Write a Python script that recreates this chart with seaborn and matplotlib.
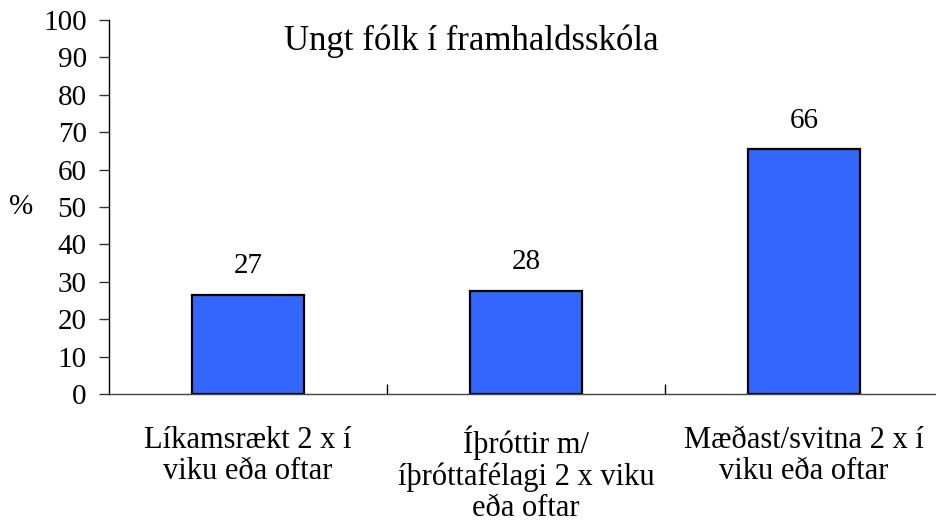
import numpy as np
import pandas as pd
import seaborn as sns
import matplotlib.pyplot as plt

# data
categories = ["Líkamsrækt 2 x í\nviku eða oftar",
              "Íþróttir m/\níþróttafélagi 2 x viku\neða oftar",
              "Mæðast/svitna 2 x í\nviku eða oftar"]
values = [26.6, 27.6, 65.5]
value_labels = ["27", "28", "66"]
y_ticks = list(range(0, 101, 10))

sns.set_style("white")
plt.rcParams["font.family"] = ["Liberation Serif", "DejaVu Serif"]
plt.rcParams["text.color"] = "black"
plt.rcParams["axes.labelcolor"] = "black"
plt.rcParams["xtick.color"] = "black"
plt.rcParams["ytick.color"] = "black"

df = pd.DataFrame({"cat": categories, "pct": values})

fig = plt.figure(figsize=(9.37, 5.27), dpi=100)
ax = fig.add_axes([109 / 937, 1 - 394 / 527, 834 / 937, 374 / 527])

sns.barplot(data=df, x="cat", y="pct", color="#3366FF", saturation=1,
            edgecolor="black", linewidth=1.6, width=0.4, ax=ax)

ax.bar_label(ax.containers[0], labels=value_labels, padding=11, fontsize=21)

ax.set_xlim(-0.5, 2.5)
ax.set_ylim(0, 100)
ax.set_yticks(y_ticks)
ax.tick_params(axis="y", direction="out", length=7, width=1, pad=9,
               labelsize=21, left=True, color="#333333")
ax.set_xticks([0, 1, 2])
ax.set_xticklabels(categories, fontsize=22, linespacing=1.1)
ax.tick_params(axis="x", length=0, pad=23)
ax.set_xticks([0.5, 1.5], minor=True)
ax.tick_params(axis="x", which="minor", direction="in", length=7, width=1,
               bottom=True, color="black")

for s in ["top", "right"]:
    ax.spines[s].set_visible(False)
ax.spines["left"].set_color("black")
ax.spines["bottom"].set_color("#444444")
ax.spines["left"].set_linewidth(1)
ax.spines["bottom"].set_linewidth(1)

ax.set_xlabel("")
ax.set_ylabel("%", rotation=0, fontsize=21, labelpad=16, va="center")

fig.text(471 / 937, 1 - 41 / 527, "Ungt fólk í framhaldsskóla",
         ha="center", va="center", fontsize=25)

fig.savefig("out.png", dpi=100)
